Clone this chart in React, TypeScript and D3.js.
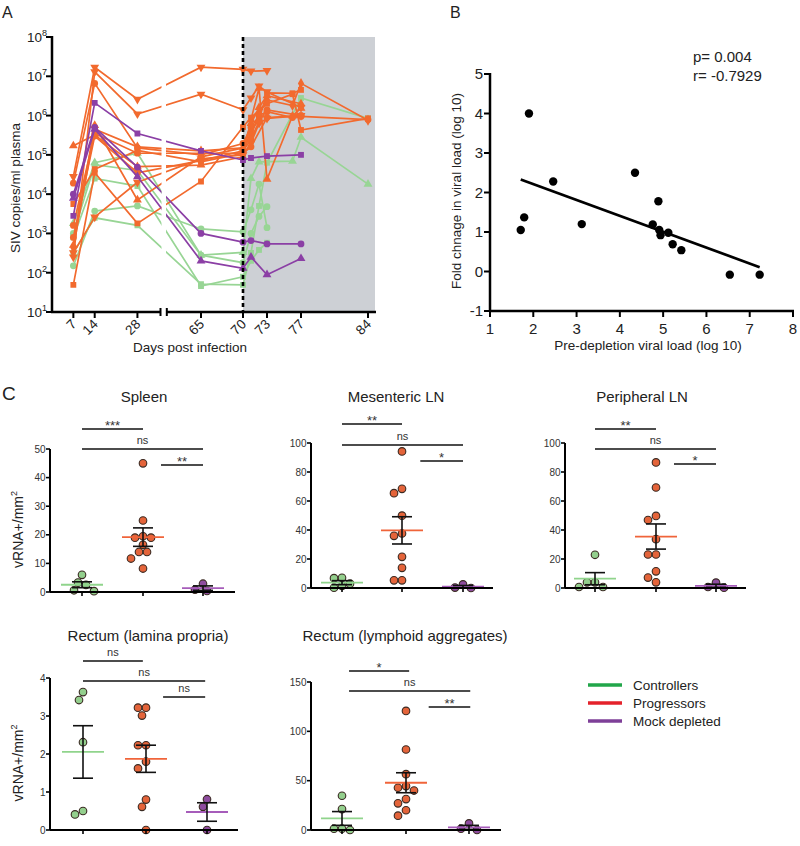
import React from "react";
import * as d3 from "d3";

const FONT = "'Liberation Sans', Arial, Helvetica, sans-serif";

// ---------------- Panel A data (SIV copies/ml plasma) ----------------
const vlDays = [7, 14, 28, 65, 70, 71, 72, 73, 76, 77, 84];
const vlTickDays = [7, 14, 28, 65, 70, 73, 77, 84];
const vlTicks = [1e1, 1e2, 1e3, 1e4, 1e5, 1e6, 1e7, 1e8];
const depletionDay = 70;

const progressorVL = [
  { shape: "invtri", values: [2.8e4, 1.7e7, 2.6e6, 1.7e7, 1.5e7, 1.35e7, null, 1.4e7, null, null, null] },
  { shape: "invtri", values: [2.5e2, 1.3e7, 1.1e6, 3.5e6, 1.4e6, 2.8e6, 5.6e6, 4e6, null, 1.6e6, null] },
  { shape: "circle", values: [1.9e4, 6.6e6, 1.5e5, 1e5, 1.95e5, 5e5, 1e6, 1.26e6, 8.9e5, 9.5e5, 7.9e5] },
  { shape: "square", values: [5.6e3, 4.3e4, 1.3e5, 6.6e4, 1.1e5, 4e5, 7.9e5, 3.8e6, 3.7e6, 4.5e6, null] },
  { shape: "diamond", values: [4.3e2, 4.5e5, 1.6e5, 1.26e5, 1.5e5, 3.2e5, 1.1e6, 2.5e6, 1.8e6, 6.6e6, 7.6e5] },
  { shape: "triangle", values: [1.7e5, 3.2e5, 5e4, 5.5e4, 8.9e4, 7.9e5, 5e6, 2.4e4, 9.8e5, 1.55e6, null] },
  { shape: "square", values: [4.9e1, 3.5e4, 1.8e3, 2.1e4, 5.1e5, 8.9e5, null, 2e6, 3.5e6, 4.3e5, 8.5e5] },
  { shape: "invtri", values: [3.2e2, 2.6e3, 2e4, 7.9e4, 1e5, 2e5, 6.3e5, 8.5e5, null, 1e6, null] },
  { shape: "circle", values: [7.9e2, 3e5, 3.5e4, 7.1e4, 1.26e5, 2.5e5, 7.1e5, 1.4e6, null, 1e6, null] },
  { shape: "triangle", values: [5e2, 5.6e5, 7.1e3, 8.9e4, 1.5e5, 6.3e5, 1.6e6, 3.2e6, null, 2e6, null] },
  { shape: "circle", values: [1.6e3, 3.5e5, 1.1e5, 1.1e5, 1.1e5, 1.6e5, null, 8.9e5, null, 1e6, null] },
];

const controllerVL = [
  { shape: "circle", values: [1.5e2, 3.7e3, 5e3, 1.3e3, 1.1e3, 4e3, 1.8e4, 1.4e3, null, null, null] },
  { shape: "triangle", values: [1.8e3, 6.3e4, 1.1e5, 2.8e2, 3.3e2, 2.5e4, 6.6e4, null, 6.9e4, 2.8e5, 1.8e4] },
  { shape: "square", values: [3.2e2, 2.5e3, 1.6e3, 5.1e1, 4.9e1, 3.2e2, 5e3, 6.3e4, null, 2.8e6, 8.5e5] },
  { shape: "circle", values: [1e3, 5.6e4, 4e4, 2.8e2, 1.8e2, 1e3, 2.7e3, 4.8e3, null, null, null] },
  { shape: "square", values: [7.9e2, 2.5e4, 1.6e4, 4.6e1, 7.9e1, 2e2, 3.8e2, 5.8e2, null, null, null] },
];

const mockVL = [
  { shape: "square", values: [2.8e3, 2.1e6, 3.5e5, 1.26e5, 7.4e4, 8.3e4, null, 9.3e4, null, 1e5, null] },
  { shape: "circle", values: [1e4, 5e5, 4.9e4, 1e3, 6e2, 6.6e2, null, 5.4e2, null, 5.4e2, null] },
  { shape: "triangle", values: [7.9e3, 4.5e5, 2.8e4, 2e2, 1.3e2, 2.5e2, null, 8.9e1, null, 2.3e2, null] },
];

// ---------------- Panel B data ----------------
const preDepletionLog = [1.71, 1.79, 1.9, 2.46, 3.12, 4.35, 4.89, 4.76, 4.91, 4.94, 5.12, 5.22, 5.42, 6.54, 7.23];
const foldChangeLog = [1.05, 1.37, 4.0, 2.28, 1.2, 2.5, 1.78, 1.19, 1.05, 0.92, 0.98, 0.69, 0.54, -0.08, -0.08];
const bXTicks = [1, 2, 3, 4, 5, 6, 7, 8];
const bYTicks = [-1, 0, 1, 2, 3, 4, 5];
const pText = "p= 0.004";
const rText = "r= -0.7929";

// ---------------- Panel C data (vRNA+/mm2) ----------------
const groupNames = ["Controllers", "Progressors", "Mock depleted"];

const spleenCtrl = [6, 3.3, 2.5, 0.6, 0.3];
const spleenProg = [45, 25, 19.5, 19, 19, 16.5, 14, 14, 11.7, 8.2];
const spleenMock = [2.9, 0.8, 0.35];
const spleenSig = ["***", "ns", "**"];

const mesCtrl = [7, 6.8, 3, 1.4, 0.2];
const mesProg = [94.2, 68.4, 65.4, 49.9, 37.6, 36, 21.5, 13.9, 5.3, 5.3];
const mesMock = [2.5, 0.3, 0];
const mesSig = ["**", "ns", "*"];

const perCtrl = [22.9, 3.9, 3.9, 0.7, 0.7];
const perProg = [86.6, 69.3, 49.7, 46.9, 33.7, 23.1, 23.1, 11.5, 7.2, 3.9];
const perMock = [3.7, 0.7, 0.2];
const perSig = ["**", "ns", "*"];

const lpCtrl = [3.63, 3.42, 2.31, 0.5, 0.41];
const lpProg = [3.22, 3.22, 3.01, 2.23, 2.23, 1.8, 1.62, 0.8, 0.61, 0];
const lpMock = [0.81, 0.61, 0];
const lpSig = ["ns", "ns", "ns"];

const laCtrl = [34.7, 21.2, 1.3, 1.3, 0];
const laProg = [120.7, 81.6, 56.6, 44.5, 42.8, 40, 31.3, 27, 20, 14.5];
const laMock = [6.7, 1.3, 0];
const laSig = ["*", "ns", "**"];

// ---------------- styles ----------------
const ORANGE = "#f26a2e";
const PURPLE = "#8b3fa5";
const GREEN = "#98d595";
const FILLS = ["#93cf8d", "#e4643a", "#8e4c9f"];
const MEANS = ["#90d48c", "#f0643a", "#a65cba"];
const LEGEND = ["#22a64a", "#e4222b", "#7e3f98"];

function symPath(shape: string, size: number) {
  const t =
    shape === "circle" ? d3.symbolCircle :
    shape === "square" ? d3.symbolSquare :
    shape === "diamond" ? d3.symbolDiamond : d3.symbolTriangle;
  return d3.symbol().type(t).size(size)() as string;
}

function PanelA() {
  const x = d3
    .scaleLinear()
    .domain([0, 35.4, 61.1, 65, 70, 73, 77, 84, 84.8])
    .range([52, 160, 167, 201, 243, 267, 301, 368, 375]);
  const y = d3.scaleLog().domain([10, 1e8]).range([312, 37]);
  const line = d3
    .line<[number, number]>()
    .x((d) => x(d[0]))
    .y((d) => y(d[1]));
  const groups = [
    { list: controllerVL, color: GREEN },
    { list: progressorVL, color: ORANGE },
    { list: mockVL, color: PURPLE },
  ];
  const x70 = x(depletionDay);
  return (
    <g>
      <text x={2} y={18} fontSize={16} fill="#222">A</text>
      <defs>
        <clipPath id="gapA">
          <rect x={0} y={0} width={161.5} height={400} />
          <rect x={166} y={0} width={634} height={400} />
        </clipPath>
      </defs>
      <rect x={x70} y={37} width={375 - x70} height={275} fill="#cdd0d5" />
      <g clipPath="url(#gapA)">
        {groups.map((g, gi) =>
          g.list.map((s, si) => {
            const pts = vlDays
              .map((d, i) => [d, s.values[i]] as [number, number | null])
              .filter((p) => p[1] != null) as [number, number][];
            return (
              <g key={`${gi}-${si}`}>
                <path d={line(pts) || ""} fill="none" stroke={g.color} strokeWidth={1.7} />
                {pts.map((p, k) => (
                  <path
                    key={k}
                    d={symPath(s.shape, s.shape === "circle" ? 36 : 34)}
                    transform={`translate(${x(p[0])},${y(p[1])})${s.shape === "invtri" ? " rotate(180)" : ""}`}
                    fill={g.color}
                  />
                ))}
              </g>
            );
          })
        )}
      </g>
      <line x1={x70} x2={x70} y1={37} y2={312} stroke="#000" strokeWidth={2.6} strokeDasharray="4 3" />
      {/* y axis */}
      <line x1={52} x2={52} y1={36} y2={313} stroke="#000" strokeWidth={2.5} />
      {vlTicks.map((t) => (
        <g key={t}>
          <line x1={46} x2={52} y1={y(t)} y2={y(t)} stroke="#000" strokeWidth={2} />
          <text x={47} y={y(t) + 5} textAnchor="end" fontSize={13.5} fill="#222">
            10<tspan fontSize={9} dy={-6}>{Math.round(Math.log10(t))}</tspan>
          </text>
        </g>
      ))}
      {/* x axis with break */}
      <line x1={51} x2={161} y1={312} y2={312} stroke="#000" strokeWidth={2.5} />
      <line x1={166} x2={376} y1={312} y2={312} stroke="#000" strokeWidth={2.5} />
      <line x1={160.5} x2={160.5} y1={308} y2={316} stroke="#000" strokeWidth={2} />
      <line x1={166.8} x2={166.8} y1={308} y2={316} stroke="#000" strokeWidth={2} />
      {vlTickDays.map((d) => (
        <g key={d}>
          <line x1={x(d)} x2={x(d)} y1={312} y2={318} stroke="#000" strokeWidth={2} />
          <text
            transform={`translate(${x(d) + 4},${325}) rotate(-45)`}
            textAnchor="end"
            fontSize={13.5}
            fill="#222"
          >
            {d}
          </text>
        </g>
      ))}
      <text x={190} y={352} textAnchor="middle" fontSize={13.5} fill="#222">Days post infection</text>
      <text transform="translate(20,188) rotate(-90)" textAnchor="middle" fontSize={13.5} fill="#222">
        SIV copies/ml plasma
      </text>
    </g>
  );
}

function PanelB() {
  const x = d3.scaleLinear().domain([1, 8]).range([490, 793]);
  const y = d3.scaleLinear().domain([-1, 5]).range([311, 74]);
  const mx = d3.mean(preDepletionLog) as number;
  const my = d3.mean(foldChangeLog) as number;
  let sxy = 0, sxx = 0;
  preDepletionLog.forEach((v, i) => {
    sxy += (v - mx) * (foldChangeLog[i] - my);
    sxx += (v - mx) * (v - mx);
  });
  const slope = sxy / sxx;
  const icpt = my - slope * mx;
  const [x0, x1] = d3.extent(preDepletionLog) as [number, number];
  return (
    <g>
      <text x={450} y={18} fontSize={16} fill="#222">B</text>
      <line x1={x(x0)} x2={x(x1)} y1={y(icpt + slope * x0)} y2={y(icpt + slope * x1)} stroke="#000" strokeWidth={2.7} />
      {preDepletionLog.map((v, i) => (
        <circle key={i} cx={x(v)} cy={y(foldChangeLog[i])} r={4.2} fill="#000" />
      ))}
      <line x1={490} x2={490} y1={73} y2={312} stroke="#000" strokeWidth={2.5} />
      <line x1={489} x2={794} y1={311} y2={311} stroke="#000" strokeWidth={2.5} />
      {bYTicks.map((t) => (
        <g key={t}>
          <line x1={484} x2={490} y1={y(t)} y2={y(t)} stroke="#000" strokeWidth={2} />
          <text x={483} y={y(t) + 5} textAnchor="end" fontSize={15} fill="#222">{t}</text>
        </g>
      ))}
      {bXTicks.map((t) => (
        <g key={t}>
          <line x1={x(t)} x2={x(t)} y1={311} y2={317} stroke="#000" strokeWidth={2} />
          <text x={x(t)} y={334} textAnchor="middle" fontSize={15} fill="#222">{t}</text>
        </g>
      ))}
      <text x={648} y={350} textAnchor="middle" fontSize={13.5} fill="#222">Pre-depletion viral load (log 10)</text>
      <text transform="translate(461,191) rotate(-90)" textAnchor="middle" fontSize={13.5} fill="#222">
        Fold chnage in viral load (log 10)
      </text>
      <text x={693} y={62} fontSize={15} fill="#222">{pText}</text>
      <text x={693} y={81} fontSize={15} fill="#222">{rText}</text>
    </g>
  );
}

// greedy beeswarm placement around a group centre
function dodge(vals: number[], yS: (v: number) => number, cx: number) {
  const pts = vals.map((v) => ({ v, y: yS(v) })).sort((a, b) => a.y - b.y);
  const cands = [0, -4, 4, -8, 8, -12, 12, -16, 16, -20, 20];
  const minD = 8;
  const out: { x: number; y: number }[] = [];
  pts.forEach((p) => {
    let placed = false;
    for (const o of cands) {
      const xx = cx + o;
      if (out.every((q) => Math.hypot(q.x - xx, q.y - p.y) >= minD)) {
        out.push({ x: xx, y: p.y });
        placed = true;
        break;
      }
    }
    if (!placed) out.push({ x: cx, y: p.y });
  });
  return out;
}

type PanelCfg = {
  title: string;
  ax: number;
  y0: number;
  y1: number;
  max: number;
  ticks: number[];
  gx: number[];
  end: number;
  titleX: number;
  titleY: number;
  barY: number[];
  barX: [number, number][];
  sig: string[];
  data: number[][];
  ylabel: boolean;
};

function DotPanel({ c }: { c: PanelCfg }) {
  const y = d3.scaleLinear().domain([0, c.max]).range([c.y0, c.y1]);
  const gpos = d3.scaleLinear().domain([1, 2, 3]).range(c.gx);
  const r = 3.8;
  return (
    <g>
      <text x={c.titleX} y={c.titleY} textAnchor="middle" fontSize={15} fill="#222">{c.title}</text>
      {c.sig.map((s, i) => {
        const xa = gpos(c.barX[i][0]);
        const xb = gpos(c.barX[i][1]);
        const isNs = s === "ns";
        return (
          <g key={i}>
            <line x1={xa} x2={xb} y1={c.barY[i]} y2={c.barY[i]} stroke="#111" strokeWidth={1.6} />
            <text
              x={(xa + xb) / 2}
              y={isNs ? c.barY[i] - 5 : c.barY[i] + 1}
              textAnchor="middle"
              fontSize={isNs ? 11 : 13}
              fill="#333"
            >
              {s}
            </text>
          </g>
        );
      })}
      {c.data.map((vals, gi) => {
        const pts = dodge(vals, y, c.gx[gi]);
        const m = d3.mean(vals) as number;
        const sem = (d3.deviation(vals) as number) / Math.sqrt(vals.length);
        const cx = c.gx[gi];
        return (
          <g key={gi}>
            {pts.map((p, k) => (
              <circle key={k} cx={p.x} cy={p.y} r={r} fill={FILLS[gi]} stroke="#3a2a22" strokeWidth={1.1} />
            ))}
            <line x1={cx - 21} x2={cx + 21} y1={y(m)} y2={y(m)} stroke={MEANS[gi]} strokeWidth={1.8} />
            <line x1={cx} x2={cx} y1={y(m + sem)} y2={y(Math.max(0, m - sem))} stroke="#111" strokeWidth={1.6} />
            <line x1={cx - 10} x2={cx + 10} y1={y(m + sem)} y2={y(m + sem)} stroke="#111" strokeWidth={1.6} />
            {m - sem > 0 && (
              <line x1={cx - 10} x2={cx + 10} y1={y(m - sem)} y2={y(m - sem)} stroke="#111" strokeWidth={1.6} />
            )}
          </g>
        );
      })}
      <line x1={c.ax} x2={c.ax} y1={c.y1} y2={c.y0} stroke="#000" strokeWidth={2} />
      <line x1={c.ax} x2={c.end} y1={c.y0} y2={c.y0} stroke="#000" strokeWidth={2} />
      {c.ticks.map((t) => (
        <g key={t}>
          <line x1={c.ax - 4} x2={c.ax} y1={y(t)} y2={y(t)} stroke="#000" strokeWidth={1.6} />
          <text x={c.ax - 4.5} y={y(t) + 3.5} textAnchor="end" fontSize={10} fill="#333">{t}</text>
        </g>
      ))}
      {c.gx.map((g) => (
        <line key={g} x1={g} x2={g} y1={c.y0} y2={c.y0 + 4} stroke="#000" strokeWidth={1.6} />
      ))}
      {c.ylabel && (
        <text
          transform={`translate(23,${(c.y0 + c.y1) / 2 + 9}) rotate(-90)`}
          textAnchor="middle"
          fontSize={14}
          fill="#222"
        >
          vRNA+/mm<tspan fontSize={9} dy={-6}>2</tspan>
        </text>
      )}
    </g>
  );
}

function PanelC() {
  const std: [number, number][] = [[1, 2], [1, 3], [2.3, 3]];
  const panels: PanelCfg[] = [
    {
      title: "Spleen", ax: 50, y0: 592, y1: 449, max: 50, ticks: [0, 10, 20, 30, 40, 50],
      gx: [82, 143, 203], end: 235, titleX: 144, titleY: 402,
      barY: [429, 449, 465], barX: std, sig: spleenSig, data: [spleenCtrl, spleenProg, spleenMock], ylabel: true,
    },
    {
      title: "Mesenteric LN", ax: 311, y0: 588, y1: 443, max: 100, ticks: [0, 20, 40, 60, 80, 100],
      gx: [342, 402, 463], end: 493, titleX: 396, titleY: 402,
      barY: [424, 445, 461], barX: std, sig: mesSig, data: [mesCtrl, mesProg, mesMock], ylabel: false,
    },
    {
      title: "Peripheral LN", ax: 565, y0: 588, y1: 443, max: 100, ticks: [0, 20, 40, 60, 80, 100],
      gx: [595, 656, 716], end: 746, titleX: 642, titleY: 402,
      barY: [429, 449, 464], barX: std, sig: perSig, data: [perCtrl, perProg, perMock], ylabel: false,
    },
    {
      title: "Rectum (lamina propria)", ax: 50, y0: 830, y1: 678, max: 4, ticks: [0, 1, 2, 3, 4],
      gx: [83, 146, 207], end: 238, titleX: 148, titleY: 641,
      barY: [661, 681, 697], barX: [[1, 1.95], [1, 2.97], [2.28, 2.97]], sig: lpSig, data: [lpCtrl, lpProg, lpMock], ylabel: true,
    },
    {
      title: "Rectum (lymphoid aggregates)", ax: 311, y0: 830, y1: 682, max: 150, ticks: [0, 50, 100, 150],
      gx: [342, 406, 469], end: 501, titleX: 405, titleY: 641,
      barY: [671, 691, 707], barX: [[1.11, 2.05], [1.11, 3.02], [2.36, 3.02]], sig: laSig, data: [laCtrl, laProg, laMock], ylabel: false,
    },
  ];
  return (
    <g>
      <text x={2} y={400} fontSize={19} fill="#222">C</text>
      {panels.map((p) => (
        <DotPanel key={p.title} c={p} />
      ))}
    </g>
  );
}

function Legend() {
  return (
    <g>
      {groupNames.map((n, i) => (
        <g key={n}>
          <line x1={588} x2={622} y1={685 + i * 18} y2={685 + i * 18} stroke={LEGEND[i]} strokeWidth={3.5} />
          <text x={633} y={685 + i * 18 + 5} fontSize={13.5} fill="#222">{n}</text>
        </g>
      ))}
    </g>
  );
}

export default function App() {
  return (
    <svg
      width={800}
      height={846}
      style={{ position: "absolute", left: 0, top: 0, background: "#fff" }}
      fontFamily={FONT}
    >
      <rect width={800} height={846} fill="#fff" />
      <PanelA />
      <PanelB />
      <PanelC />
      <Legend />
    </svg>
  );
}
